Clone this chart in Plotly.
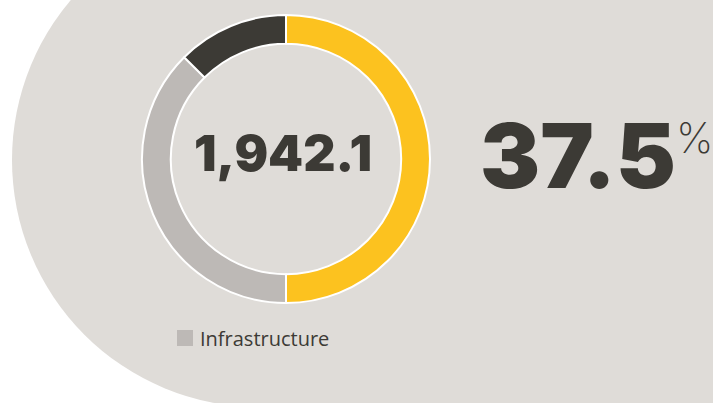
import plotly.graph_objects as go

# ---- data ----
labels = ["Other", "Infrastructure", "Remaining"]
shares = [50.0, 37.5, 12.5]
colors = ["#fcc21f", "#bdb9b6", "#3c3a35"]
total_value = 1942.1
highlight_label = "Infrastructure"

W, H = 713, 403
BG = "#dfdcd8"
DARK = "#3c3a35"


def px(x):
    return x / W


def py(y):
    return 1 - y / H


cx, cy, R = 286, 159, 144

fig = go.Figure()
fig.add_trace(go.Pie(
    labels=labels,
    values=shares,
    sort=False,
    direction="clockwise",
    rotation=0,
    hole=0.8,
    textinfo="none",
    hoverinfo="label+percent",
    marker=dict(colors=colors, line=dict(color="white", width=2)),
    domain=dict(x=[px(cx - R), px(cx + R)], y=[py(cy + R), py(cy - R)]),
    showlegend=False,
))

# background shape: circle on the left joined with a rectangle to the right
bcx, bcy, bR = 259, 160, 247
fig.add_shape(type="circle", xref="paper", yref="paper",
              x0=px(bcx - bR), x1=px(bcx + bR), y0=py(bcy + bR), y1=py(bcy - bR),
              fillcolor=BG, line=dict(width=0), layer="below")
fig.add_shape(type="rect", xref="paper", yref="paper",
              x0=px(bcx), x1=px(W + 20), y0=py(bcy + bR), y1=py(bcy - bR),
              fillcolor=BG, line=dict(width=0), layer="below")

hi = labels.index(highlight_label)
share_txt = f"{shares[hi]:.1f}"
total_txt = f"{total_value:,.1f}"

# center total
fig.add_annotation(x=px(283), y=py(153), xref="paper", yref="paper",
                   text=total_txt, showarrow=False,
                   xanchor="center", yanchor="middle",
                   font=dict(family="Inter", size=50, color=DARK, weight=900))

# big share
fig.add_annotation(x=px(478), y=py(155), xref="paper", yref="paper",
                   text=share_txt, showarrow=False,
                   xanchor="left", yanchor="middle",
                   font=dict(family="Inter", size=90, color=DARK, weight=900))
fig.add_annotation(x=px(694), y=py(137), xref="paper", yref="paper",
                   text="%", showarrow=False,
                   xanchor="center", yanchor="middle",
                   font=dict(family="Inter", size=42, color=DARK, weight=200))

# legend
fig.add_shape(type="rect", xref="paper", yref="paper",
              x0=px(177), x1=px(193), y0=py(346), y1=py(330),
              fillcolor=colors[hi], line=dict(width=0))
fig.add_annotation(x=px(198), y=py(338), xref="paper", yref="paper",
                   text=highlight_label, showarrow=False,
                   xanchor="left", yanchor="middle",
                   font=dict(family="Open Sans", size=20, color=DARK))

fig.update_layout(width=W, height=H, margin=dict(l=0, r=0, t=0, b=0),
                  paper_bgcolor="white", plot_bgcolor="white")
fig.write_html("out.html", config={"displayModeBar": False},
               post_script="document.body.style.margin='0';")
